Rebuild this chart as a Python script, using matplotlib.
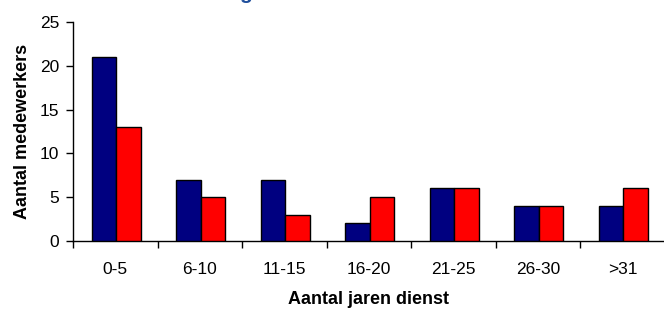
import numpy as np
import matplotlib.pyplot as plt

# dienstjaren per categorie
categorieen = ['0-5', '6-10', '11-15', '16-20', '21-25', '26-30', '>31']
reeks_blauw = [21, 7, 7, 2, 6, 4, 4]
reeks_rood = [13, 5, 3, 5, 6, 4, 6]

plt.rcParams['font.family'] = ['Liberation Sans', 'DejaVu Sans']

fig = plt.figure(figsize=(6.64, 3.10), dpi=100)
ax = fig.add_axes([73 / 664, 1 - 241 / 310, 590 / 664, 219 / 310])

x = np.arange(len(categorieen))
breedte = 0.29
ax.bar(x - breedte / 2 + 0.01, reeks_blauw, breedte, color='#000080', edgecolor='black', linewidth=1, zorder=3)
ax.bar(x + breedte / 2 + 0.01, reeks_rood, breedte, color='#ff0000', edgecolor='black', linewidth=1, zorder=3)

ax.set_xlim(-0.5, 6.48)
ax.set_ylim(0, 25)
ax.set_yticks([0, 5, 10, 15, 20, 25])
ax.tick_params(axis='y', labelsize=12.5, length=5, width=1, pad=5, color='black')

# streepjes op de grenzen, labels in het midden
ax.set_xticks(np.arange(-0.5, 6.5, 1.0))
ax.set_xticklabels([])
ax.tick_params(axis='x', which='major', length=5, width=1, direction='out')
ax.set_xticks(x, minor=True)
ax.set_xticklabels(categorieen, minor=True)
ax.tick_params(axis='x', which='minor', length=0, labelsize=12.5, pad=15)

for s in ['top', 'right']:
    ax.spines[s].set_visible(False)
for s in ['left', 'bottom']:
    ax.spines[s].set_linewidth(1)
    ax.spines[s].set_color('black')

ax.set_xlabel('Aantal jaren dienst', fontsize=13, fontweight='bold', labelpad=10)
ax.set_ylabel('Aantal medewerkers', fontsize=13, fontweight='bold', labelpad=6)

# afgesneden titel bovenaan
fig.text(246 / 664, 1 + 1 / 310, 'g', color='#1f4e9c', fontsize=15, fontweight='bold',
         ha='center', va='baseline')

fig.savefig('out.png', dpi=100)
